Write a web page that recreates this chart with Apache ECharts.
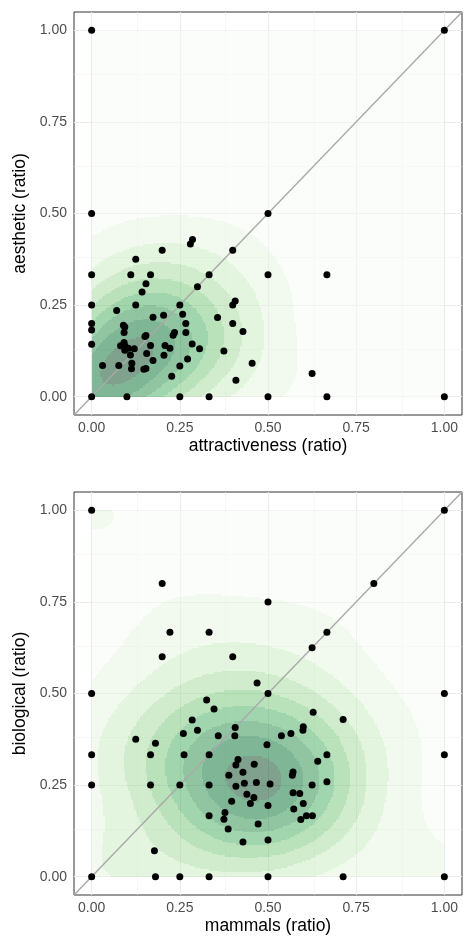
<!DOCTYPE html>
<html>
<head>
<meta charset="utf-8">
<script src="https://cdn.jsdelivr.net/npm/echarts@6/dist/echarts.min.js"></script>
<style>html,body{margin:0;padding:0;background:#fff;}#c{width:463px;height:936px;}</style>
</head>
<body>
<div id="c"></div>
<script>
// ---- tick definitions ----
const majorTicks = [0, 0.25, 0.5, 0.75, 1];
const tickLabels = ['0.00', '0.25', '0.50', '0.75', '1.00'];
const minorTicks = [0.125, 0.375, 0.625, 0.875];
const AX_MIN = -0.05, AX_MAX = 1.05;

// ---- panel 1: attractiveness vs aesthetic ----
const attractiveness = [0,1,0,0.5,0,0.111,0.167,0.333,0.5,0.667,0.28,0.286,0.2,0.4,0.125,0.154,0.143,0.3,0,0.125,0.25,0.071,0.4,0.407,0.174,0.204,0.258,0.357,0,0,0.09,0.094,0.267,0.4,0.429,0.092,0.267,0.235,0.231,0.151,0.154,0,0.082,0.092,0.094,0.104,0.121,0.167,0.208,0.222,0.285,0.306,0.375,0.094,0.11,0.156,0.205,0.174,0.031,0.077,0.114,0.113,0.148,0.154,0.272,0.25,0.227,0.455,0.409,0.625,0,0.1,0.25,0.333,0.5,0.667,1];
const aesthetic = [1,1,0.5,0.5,0.333,0.333,0.333,0.333,0.333,0.333,0.417,0.429,0.4,0.4,0.375,0.308,0.286,0.3,0.25,0.25,0.25,0.235,0.25,0.261,0.217,0.222,0.225,0.216,0.2,0.182,0.195,0.19,0.2,0.2,0.178,0.175,0.175,0.175,0.168,0.164,0.167,0.143,0.139,0.148,0.139,0.132,0.131,0.14,0.14,0.132,0.144,0.131,0.125,0.127,0.114,0.118,0.113,0.099,0.085,0.085,0.091,0.076,0.075,0.077,0.103,0.084,0.056,0.091,0.045,0.063,0,0,0,0,0,0,0];
// hidden overlapping (stacked) observations, estimated from the density
const stackedX1 = [0];
const stackedY1 = [0];
const stackedCount1 = [24];

// ---- panel 2: mammals vs biological ----
const mammals = [0,1,0.2,0.8,0.5,0.222,0.333,0.667,0.625,0.2,0.4,0.469,0,0.5,1,0.326,0.347,0.628,0.713,0.285,0.407,0.6,0.599,0.26,0.3,0.406,0.359,0.538,0.565,0.125,0.181,0.497,0,0.167,0.262,0.333,0.667,1,0.641,0.415,0.409,0.461,0.429,0.571,0.569,0.389,0,0.167,0.25,0.333,0.409,0.433,0.467,0.506,0.625,0.667,0.44,0.46,0.45,0.397,0.571,0.59,0.6,0.5,0.573,0.378,0.375,0.333,0.609,0.626,0.593,0.387,0.472,0.429,0.5,0.178,0,0.181,0.25,0.333,0.5,0.713,1];
const biological = [1,1,0.8,0.8,0.75,0.667,0.667,0.667,0.625,0.6,0.6,0.529,0.5,0.5,0.5,0.482,0.458,0.449,0.429,0.428,0.407,0.409,0.4,0.391,0.4,0.385,0.385,0.385,0.391,0.375,0.364,0.36,0.333,0.333,0.333,0.333,0.333,0.333,0.315,0.32,0.305,0.307,0.285,0.286,0.277,0.277,0.25,0.25,0.25,0.25,0.247,0.255,0.257,0.253,0.25,0.259,0.225,0.216,0.2,0.206,0.229,0.227,0.2,0.194,0.185,0.175,0.157,0.166,0.166,0.166,0.156,0.13,0.144,0.095,0.1,0.071,0,0,0,0,0,0,0];
const stackedX2 = [0, 0, 1];
const stackedY2 = [0, 1, 0];
const stackedCount2 = [4, 3, 3];

const xTitles = ['attractiveness (ratio)', 'mammals (ratio)'];
const yTitles = ['aesthetic (ratio)', 'biological (ratio)'];

// ---- 2D kernel density (kde2d-style with normal-reference bandwidth) ----
const BW_ADJ = [1.55, 1.6];
const N_BANDS = 9;
const greens9 = ['#F7FCF5','#E5F5E0','#C7E9C0','#A1D99B','#74C476','#41AB5D','#238B45','#006D2C','#00441B'];
function quantile(s, p) { const h = (s.length - 1) * p, lo = Math.floor(h); const hi = Math.min(lo + 1, s.length - 1); return s[lo] + (h - lo) * (s[hi] - s[lo]); }
function bwNrd(x) {
  const n = x.length, s = x.slice().sort((a, b) => a - b);
  const m = x.reduce((a, b) => a + b, 0) / n;
  const sd = Math.sqrt(x.reduce((a, b) => a + (b - m) * (b - m), 0) / (n - 1));
  const iqr = quantile(s, 0.75) - quantile(s, 0.25);
  let r = iqr / 1.34; if (!(r > 0)) r = sd;
  return 4 * 1.06 * Math.min(sd, r) * Math.pow(n, -0.2);
}
function withStacked(xs, ys, sx, sy, sc) {
  const X = xs.slice(), Y = ys.slice();
  sx.forEach((v, i) => { for (let c = 0; c < sc[i]; c++) { X.push(v); Y.push(sy[i]); } });
  return [X, Y];
}
function densityBands(xs, ys, N, adj) {
  const n = xs.length, hx = adj * bwNrd(xs) / 4, hy = adj * bwNrd(ys) / 4;
  const x0 = Math.min(...xs), x1 = Math.max(...xs), y0 = Math.min(...ys), y1 = Math.max(...ys);
  const dx = (x1 - x0) / N, dy = (y1 - y0) / N;
  const gx = [], gy = [];
  for (let i = 0; i < N; i++) {
    const cx = x0 + (i + 0.5) * dx, cy = y0 + (i + 0.5) * dy;
    const ax = new Float64Array(n), ay = new Float64Array(n);
    for (let k = 0; k < n; k++) {
      const u = (cx - xs[k]) / hx, v = (cy - ys[k]) / hy;
      ax[k] = Math.exp(-0.5 * u * u) / Math.sqrt(2 * Math.PI);
      ay[k] = Math.exp(-0.5 * v * v) / Math.sqrt(2 * Math.PI);
    }
    gx.push(ax); gy.push(ay);
  }
  const z = []; let zmax = -Infinity;
  for (let j = 0; j < N; j++) {
    const row = new Float64Array(N);
    for (let i = 0; i < N; i++) {
      let s = 0; const a = gx[i], b = gy[j];
      for (let k = 0; k < n; k++) s += a[k] * b[k];
      s /= (n * hx * hy); row[i] = s;
      if (s > zmax) zmax = s;
    }
    z.push(row);
  }
  const step = zmax / (N_BANDS - 0.5);
  const items = [];
  for (let j = 0; j < N; j++) {
    let start = 0, cur = -1;
    for (let i = 0; i <= N; i++) {
      let lev = -1;
      if (i < N) lev = Math.min(N_BANDS - 1, Math.floor(z[j][i] / step));
      if (i === 0) { cur = lev; start = 0; continue; }
      if (lev !== cur) {
        items.push([x0 + start * dx, x0 + i * dx, y0 + j * dy, y0 + (j + 1) * dy, cur]);
        start = i; cur = lev;
      }
    }
  }
  return items;
}

const panels = [
  { xs: attractiveness, ys: aesthetic, all: withStacked(attractiveness, aesthetic, stackedX1, stackedY1, stackedCount1) },
  { xs: mammals, ys: biological, all: withStacked(mammals, biological, stackedX2, stackedY2, stackedCount2) }
];
const gridBoxes = [
  { left: 74, top: 12, width: 388, height: 403 },
  { left: 74, top: 492, width: 388, height: 403 }
];

const option = { animation: false, grid: [], xAxis: [], yAxis: [], series: [] };
const FONT = 'Liberation Sans, Arial, sans-serif';

panels.forEach((p, gi) => {
  option.grid.push(Object.assign({ show: true, borderColor: '#333333', borderWidth: 1, backgroundColor: '#ffffff', containLabel: false, outerBoundsMode: 'none' }, gridBoxes[gi]));
  const axisCommon = {
    gridIndex: gi, type: 'value', min: AX_MIN, max: AX_MAX,
    axisLine: { show: false },
    axisTick: { show: true, customValues: majorTicks, length: 4, lineStyle: { color: '#333333', width: 1 } },
    splitLine: { show: false },
    nameLocation: 'middle',
    nameTextStyle: { color: '#000000', fontSize: 17.5, fontFamily: FONT }
  };
  option.xAxis.push(Object.assign({}, axisCommon, {
    name: xTitles[gi], nameGap: 22,
    axisLabel: { customValues: majorTicks, margin: 6, color: '#4d4d4d', fontSize: 14, fontFamily: FONT,
      formatter: v => tickLabels[majorTicks.indexOf(+v.toFixed(3))] }
  }));
  option.yAxis.push(Object.assign({}, axisCommon, {
    name: yTitles[gi], nameGap: 39, nameRotate: 90,
    axisLabel: { customValues: majorTicks, margin: 7, color: '#4d4d4d', fontSize: 14, fontFamily: FONT,
      formatter: v => tickLabels[majorTicks.indexOf(+v.toFixed(3))] }
  }));

  // grid lines
  const ml = [];
  minorTicks.forEach(v => { ml.push({ xAxis: v, lineStyle: { color: '#f2f2f2', width: 0.6, type: 'solid' } }); ml.push({ yAxis: v, lineStyle: { color: '#f2f2f2', width: 0.6, type: 'solid' } }); });
  majorTicks.forEach(v => { ml.push({ xAxis: v, lineStyle: { color: '#ebebeb', width: 1.1, type: 'solid' } }); ml.push({ yAxis: v, lineStyle: { color: '#ebebeb', width: 1.1, type: 'solid' } }); });
  option.series.push({
    type: 'line', xAxisIndex: gi, yAxisIndex: gi, data: [], z: 1, silent: true,
    markLine: { z: 1, silent: true, symbol: ['none', 'none'], label: { show: false }, animation: false,
      lineStyle: { type: 'solid' }, emphasis: { disabled: true }, data: ml }
  });

  // density bands
  const items = densityBands(p.all[0], p.all[1], 240, BW_ADJ[gi]);
  option.series.push({
    type: 'custom', xAxisIndex: gi, yAxisIndex: gi, z: 2, silent: true,
    progressive: 0,
    dimensions: ['x0', 'x1', 'y0', 'y1', 'lev'],
    encode: { x: [0, 1], y: [2, 3] },
    data: items,
    renderItem: (params, api) => {
      const a = api.coord([api.value(0), api.value(3)]);
      const b = api.coord([api.value(1), api.value(2)]);
      const x = Math.round(a[0]), y = Math.round(a[1]);
      const w = Math.round(b[0]) - x, h = Math.round(b[1]) - y;
      return { type: 'rect', shape: { x, y, width: w, height: h }, style: { fill: greens9[api.value(4)], opacity: 0.5 } };
    }
  });

  // diagonal y = x
  option.series.push({
    type: 'line', xAxisIndex: gi, yAxisIndex: gi, z: 3, silent: true, showSymbol: false,
    data: [[AX_MIN, AX_MIN], [AX_MAX, AX_MAX]],
    lineStyle: { color: '#a9a9a9', width: 1.4 }
  });

  // points
  option.series.push({
    type: 'scatter', xAxisIndex: gi, yAxisIndex: gi, z: 4, symbolSize: 7,
    itemStyle: { color: '#000000', opacity: 1 },
    data: p.xs.map((x, i) => [x, p.ys[i]])
  });
});

const chart = echarts.init(document.getElementById('c'), null, { renderer: 'canvas' });
chart.setOption(option);
</script>
</body>
</html>
